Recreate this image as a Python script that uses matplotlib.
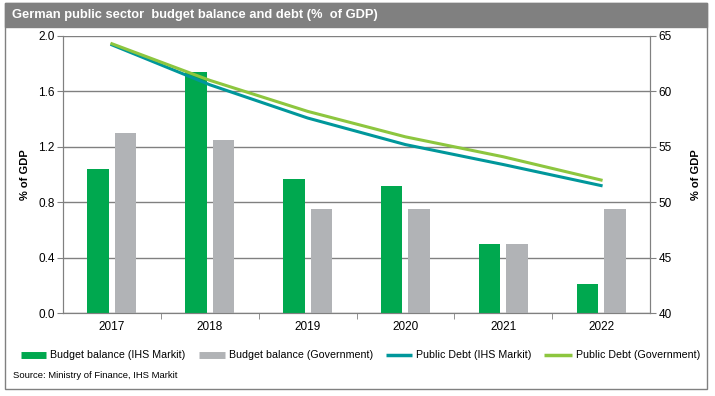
import numpy as np
import matplotlib.pyplot as plt
from matplotlib.patches import Rectangle
from matplotlib.lines import Line2D

# data
years = ['2017', '2018', '2019', '2020', '2021', '2022']
bal_ihs = [1.04, 1.74, 0.97, 0.92, 0.50, 0.21]
bal_gov = [1.30, 1.25, 0.75, 0.75, 0.50, 0.75]
debt_ihs = [64.2, 60.6, 57.6, 55.2, 53.4, 51.5]
debt_gov = [64.3, 61.0, 58.2, 55.9, 54.1, 52.0]
labels = ['Budget balance (IHS Markit)', 'Budget balance (Government)',
          'Public Debt (IHS Markit)', 'Public Debt (Government)']

c_green = '#00A84F'
c_gray = '#B1B3B6'
c_teal = '#00979B'
c_lime = '#8DC63F'
c_grid = '#808080'

plt.rcParams['font.family'] = ['Liberation Sans', 'DejaVu Sans']

fig = plt.figure(figsize=(7.15, 3.96), dpi=100)
W, H = 715, 396

# outer frame and title bar
fig.add_artist(Rectangle((5 / W, 1 - 389 / H), 702 / W, 386 / H, transform=fig.transFigure,
                         fill=False, edgecolor=c_grid, lw=1))
fig.add_artist(Rectangle((5 / W, 1 - 27 / H), 702 / W, 24 / H, transform=fig.transFigure,
                         facecolor=c_grid, edgecolor=c_grid, lw=1))
fig.text(12 / W, 1 - 15 / H, 'German public sector  budget balance and debt (%  of GDP)',
         color='white', fontsize=9.3, fontweight='bold', va='center', ha='left')

ax = fig.add_axes([63 / W, 1 - 313 / H, 587 / W, 277 / H])
x = np.arange(len(years))
bw = 0.22
ax.bar(x - 0.14, bal_ihs, bw, color=c_green, zorder=3)
ax.bar(x + 0.14, bal_gov, bw, color=c_gray, zorder=3)
ax.set_xlim(-0.5, len(years) - 0.5)
ax.set_ylim(0, 2.0)
ax.set_yticks(np.arange(0, 2.01, 0.4))
ax.set_yticklabels(['%.1f' % v for v in np.arange(0, 2.01, 0.4)])
ax.grid(axis='y', color=c_grid, lw=1, zorder=0)
ax.set_xticks(x)
ax.set_xticklabels(years)
ax.set_xticks(np.arange(0.5, len(years) - 0.5, 1), minor=True)
ax.tick_params(axis='x', which='major', length=0, pad=6, labelsize=8.5)
ax.tick_params(axis='x', which='minor', length=4, color=c_grid, direction='out')
ax.tick_params(axis='y', length=4, color=c_grid, labelsize=8.5, pad=2)
for s in ['left', 'right', 'bottom']:
    ax.spines[s].set_color(c_grid)
ax.spines['top'].set_visible(False)
ax.set_ylabel('% of GDP', fontsize=8, fontweight='bold', labelpad=6)

ax2 = ax.twinx()
ax2.plot(x, debt_ihs, color=c_teal, lw=2.2, zorder=4)
ax2.plot(x, debt_gov, color=c_lime, lw=2.2, zorder=4)
ax2.set_ylim(40, 65)
ax2.set_yticks(range(40, 66, 5))
ax2.tick_params(axis='y', length=4, color=c_grid, labelsize=8.5, pad=2)
for s in ['left', 'right', 'bottom']:
    ax2.spines[s].set_color(c_grid)
ax2.spines['top'].set_visible(False)
ax2.set_ylabel('% of GDP', fontsize=8, fontweight='bold', labelpad=14)

# legend drawn by hand to match the original spacing
leg_y = 1 - 355 / H
leg_items = [(21, 46, c_green, 5), (199, 225, c_gray, 5),
             (386, 412, c_teal, 2.5), (544, 572, c_lime, 2.5)]
for (x0, x1, col, lw), lab in zip(leg_items, labels):
    fig.add_artist(Line2D([x0 / W, x1 / W], [leg_y, leg_y], transform=fig.transFigure,
                          color=col, lw=lw, solid_capstyle='butt'))
    fig.text((x1 + 4) / W, leg_y, lab, fontsize=7.7, va='center', ha='left')

fig.text(13 / W, 1 - 376 / H, 'Source: Ministry of Finance, IHS Markit',
         fontsize=6.8, va='center', ha='left')

fig.savefig('out.png', dpi=100)
